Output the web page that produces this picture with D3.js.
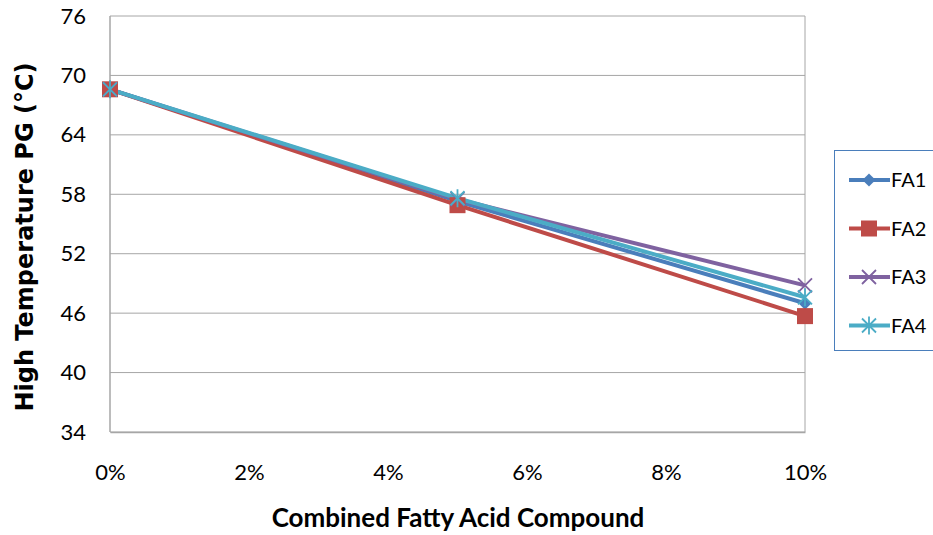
<!DOCTYPE html>
<html><head><meta charset="utf-8">
<script src="https://cdn.jsdelivr.net/npm/d3@7"></script>
<style>body{margin:0;background:#fff;}</style>
</head><body>
<svg id="c" width="933" height="535" font-family="Lato, 'Open Sans', sans-serif"></svg>
<script>
const categories = [0, 0.05, 0.10];
const xTicks = [0, 0.02, 0.04, 0.06, 0.08, 0.10];
const yTicks = [34, 40, 46, 52, 58, 64, 70, 76];
const seriesNames = ["FA1", "FA2", "FA3", "FA4"];
const FA1 = [68.6, 57.3, 47.0];
const FA2 = [68.6, 56.9, 45.7];
const FA3 = [68.6, 57.5, 48.8];
const FA4 = [68.6, 57.6, 47.6];
const colors = ["#4A7EBB", "#BE4B48", "#7F62A0", "#4BACC6"];
const markers = ["diamond", "square", "x", "star"];
const seriesData = [FA1, FA2, FA3, FA4];

const svg = d3.select("#c");
const m = {l:110, r:805, t:16, b:432};
const x = d3.scaleLinear().domain([0, 0.10]).range([m.l, m.r]);
const y = d3.scaleLinear().domain([34, 76]).range([m.b, m.t]);

// gridlines
svg.append("g").selectAll("line").data(yTicks).join("line")
  .attr("x1", m.l).attr("x2", m.r).attr("y1", d=>y(d)).attr("y2", d=>y(d))
  .attr("stroke", "#A6A6A6").attr("stroke-width", 1);
svg.append("line").attr("x1", m.r).attr("x2", m.r).attr("y1", m.t).attr("y2", m.b)
  .attr("stroke", "#A6A6A6");
svg.append("line").attr("x1", m.l).attr("x2", m.l).attr("y1", m.t).attr("y2", m.b)
  .attr("stroke", "#A6A6A6").attr("stroke-width", 1.5);

// axes
const yAxis = d3.axisLeft(y).tickValues(yTicks).tickSize(0).tickPadding(24);
const gy = svg.append("g").attr("transform", `translate(${m.l},0)`).call(yAxis);
gy.select(".domain").remove();
gy.selectAll("text").style("font-size", "22px").attr("fill", "#000").style("font-family", "Lato,'Open Sans',sans-serif");

const xAxis = d3.axisBottom(x).tickValues(xTicks).tickSize(0).tickPadding(32).tickFormat(d3.format(".0%"));
const gx = svg.append("g").attr("transform", `translate(0,${m.b})`).call(xAxis);
gx.select(".domain").attr("stroke", "#A6A6A6").attr("stroke-width", 1.5);
gx.selectAll("text").style("font-size", "22px").attr("fill", "#000").style("font-family", "Lato,'Open Sans',sans-serif");

// titles
svg.append("text").attr("transform", "translate(33,237) rotate(-90)")
  .attr("text-anchor", "middle").style("font-size", "24px").style("font-weight", "bold")
  .style("font-family", "'DejaVu Sans',sans-serif")
  .text("High Temperature PG (°C)");
svg.append("text").attr("x", 458).attr("y", 527).attr("text-anchor", "middle")
  .style("font-size", "26px").style("font-weight", "bold").style("font-family", "Lato,'Open Sans',sans-serif")
  .text("Combined Fatty Acid Compound");

function drawMarker(g, type, color) {
  if (type === "diamond") {
    g.append("path").attr("d", d3.symbol(d3.symbolDiamond2, 110)()).attr("fill", color);
  } else if (type === "square") {
    g.append("rect").attr("x", -8).attr("y", -8).attr("width", 16).attr("height", 16).attr("fill", color);
  } else if (type === "x") {
    g.append("path").attr("d", "M-7,-7L7,7M-7,7L7,-7").attr("stroke", color).attr("stroke-width", 1.8).attr("fill", "none");
  } else {
    g.append("path").attr("d", "M-7,-7L7,7M-7,7L7,-7M0,-9L0,9").attr("stroke", color).attr("stroke-width", 1.8).attr("fill", "none");
  }
}

const line = d3.line().x((d,i)=>x(categories[i])).y(d=>y(d));
seriesData.forEach((s, k) => {
  svg.append("path").datum(s).attr("d", line).attr("fill", "none")
    .attr("stroke", colors[k]).attr("stroke-width", 4).attr("stroke-linejoin", "round");
});
seriesData.forEach((s, k) => {
  s.forEach((v, i) => {
    const g = svg.append("g").attr("transform", `translate(${x(categories[i])},${y(v)})`);
    drawMarker(g, markers[k], colors[k]);
  });
});

// legend
const lg = svg.append("g");
lg.append("rect").attr("x", 834.5).attr("y", 150.5).attr("width", 110).attr("height", 200)
  .attr("fill", "#fff").attr("stroke", "#4A7EBB").attr("stroke-width", 1);
seriesNames.forEach((n, k) => {
  const yy = 180 + k * 48.5;
  lg.append("line").attr("x1", 849).attr("x2", 890).attr("y1", yy).attr("y2", yy)
    .attr("stroke", colors[k]).attr("stroke-width", 4);
  const g = lg.append("g").attr("transform", `translate(869,${yy})`);
  drawMarker(g, markers[k], colors[k]);
  lg.append("text").attr("x", 891).attr("y", yy + 7).style("font-size", "20px")
    .style("font-family", "Lato,'Open Sans',sans-serif").text(n);
});
</script>
</body></html>
